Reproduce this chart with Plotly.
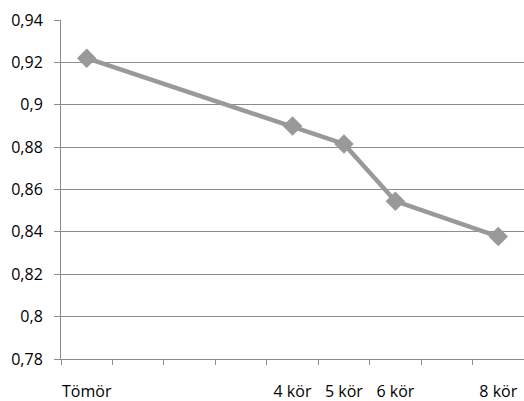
import plotly.graph_objects as go

categories = ["Tömör", " ", "  ", "   ", "4 kör", "5 kör", "6 kör", "    ", "8 kör"]
values = [0.922, None, None, None, 0.890, 0.8815, 0.8545, None, 0.8378]
y_tickvals = [0.78, 0.80, 0.82, 0.84, 0.86, 0.88, 0.90, 0.92, 0.94]
y_ticktext = ["0,78", "0,8", "0,82", "0,84", "0,86", "0,88", "0,9", "0,92", "0,94"]

gray = "#999999"
axis_gray = "#8c8c8c"

fig = go.Figure()
fig.add_trace(go.Scatter(
    x=categories, y=values, mode="lines+markers", connectgaps=True,
    line=dict(color=gray, width=4.5),
    marker=dict(symbol="diamond", size=15, color=gray),
    showlegend=False, cliponaxis=False,
))

fig.update_layout(
    width=524, height=401,
    margin=dict(l=61, r=0, t=20, b=42),
    paper_bgcolor="white", plot_bgcolor="white",
    font=dict(family="Open Sans", size=16, color="#000000"),
    xaxis=dict(
        type="category", categoryorder="array", categoryarray=categories,
        tickson="boundaries", ticks="outside", ticklen=5, tickcolor=axis_gray,
        showline=True, linecolor=axis_gray, linewidth=1,
        showgrid=False, ticklabelstandoff=18, tickangle=0, automargin=False,
        range=[-0.5, 8.5],
    ),
    yaxis=dict(
        range=[0.78, 0.94], tickvals=y_tickvals, ticktext=y_ticktext,
        ticks="outside", ticklen=6, tickcolor=axis_gray,
        showline=True, linecolor=axis_gray, linewidth=1,
        showgrid=True, gridcolor=axis_gray, gridwidth=1,
        zeroline=False, ticklabelstandoff=8, automargin=False,
    ),
)

fig.write_html("out.html")
